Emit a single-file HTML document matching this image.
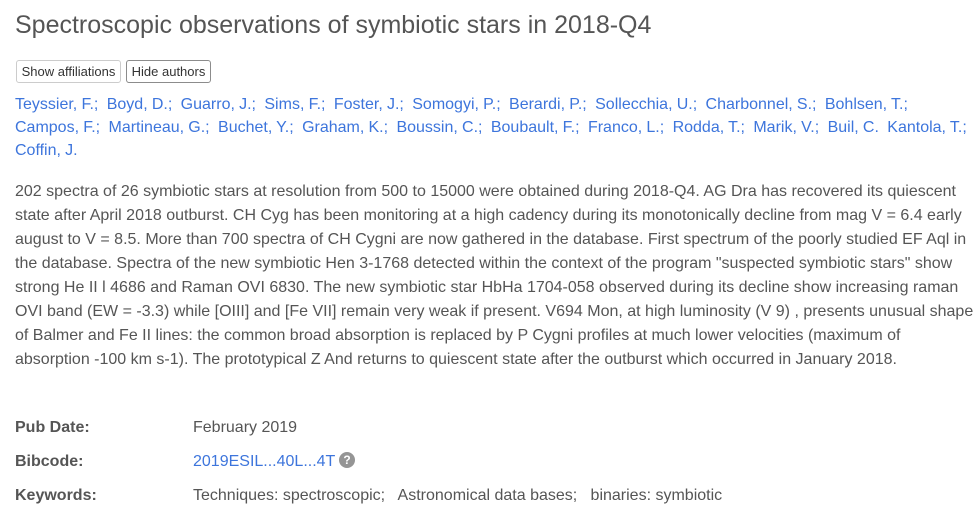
<!DOCTYPE html>
<html>
<head>
<meta charset="utf-8">
<style>
  html, body { margin:0; padding:0; background:#fff; }
  body { width:979px; height:520px; position:relative; overflow:hidden;
         font-family:"Liberation Sans", Arial, sans-serif; color:#555; }
  .abs { position:absolute; white-space:pre; }
  .title { left:15px; top:12px; font-size:25px; line-height:27px; color:#555; }
  .btn { position:absolute; top:60px; height:21px; line-height:21px; font-size:13px;
         color:#333; background:#fff; border:1px solid #ccc; border-radius:3px;
         text-align:center; box-sizing:content-box; white-space:pre; }
  .b1 { left:16px; width:103px; }
  .b2 { left:126px; width:83px; border-color:#8c8c8c; }
  .auth { left:15px; font-size:16px; line-height:23px; color:#3d75dc; word-spacing:-0.25px; }
  .abst { left:15px; font-size:16px; line-height:24px; color:#555; }
  .lab { left:15px; font-size:16px; line-height:20px; font-weight:bold; color:#555; }
  .val { left:193px; font-size:16px; line-height:20px; color:#555; }
  .link { color:#3d75dc; }
  .q { position:absolute; left:339px; top:452px; width:16px; height:16px; border-radius:50%;
       background:#959595; color:#fff; font-size:12px; font-weight:bold; line-height:16px;
       text-align:center; }
</style>
</head>
<body>
<div class="abs title">Spectroscopic observations of symbiotic stars in 2018-Q4</div>

<div class="btn b1">Show affiliations</div>
<div class="btn b2">Hide authors</div>

<div class="abs auth" style="top:93px;">Teyssier, F.;  Boyd, D.;  Guarro, J.;  Sims, F.;  Foster, J.;  Somogyi, P.;  Berardi, P.;  Sollecchia, U.;  Charbonnel, S.;  Bohlsen, T.;</div>
<div class="abs auth" style="top:116px;">Campos, F.;  Martineau, G.;  Buchet, Y.;  Graham, K.;  Boussin, C.;  Boubault, F.;  Franco, L.;  Rodda, T.;  Marik, V.;  Buil, C.  Kantola, T.;</div>
<div class="abs auth" style="top:139px;">Coffin, J.</div>

<div class="abs abst" style="top:180px;">202 spectra of 26 symbiotic stars at resolution from 500 to 15000 were obtained during 2018-Q4. AG Dra has recovered its quiescent</div>
<div class="abs abst" style="top:204px;">state after April 2018 outburst. CH Cyg has been monitoring at a high cadency during its monotonically decline from mag V = 6.4 early</div>
<div class="abs abst" style="top:228px;">august to V = 8.5. More than 700 spectra of CH Cygni are now gathered in the database. First spectrum of the poorly studied EF Aql in</div>
<div class="abs abst" style="top:252px;">the database. Spectra of the new symbiotic Hen 3-1768 detected within the context of the program "suspected symbiotic stars" show</div>
<div class="abs abst" style="top:276px;">strong He II l 4686 and Raman OVI 6830. The new symbiotic star HbHa 1704-058 observed during its decline show increasing raman</div>
<div class="abs abst" style="top:300px;">OVI band (EW = -3.3) while [OIII] and [Fe VII] remain very weak if present. V694 Mon, at high luminosity (V 9) , presents unusual shape</div>
<div class="abs abst" style="top:324px;">of Balmer and Fe II lines: the common broad absorption is replaced by P Cygni profiles at much lower velocities (maximum of</div>
<div class="abs abst" style="top:348px;">absorption -100 km s-1). The prototypical Z And returns to quiescent state after the outburst which occurred in January 2018.</div>

<div class="abs lab" style="top:418px;">Pub Date:</div>
<div class="abs val" style="top:418px;">February 2019</div>

<div class="abs lab" style="top:452px;">Bibcode:</div>
<div class="abs val" style="top:452px;"><span class="link">2019ESIL...40L...4T</span></div>
<div class="q">?</div>

<div class="abs lab" style="top:486px;">Keywords:</div>
<div class="abs val" style="top:486px;">Techniques: spectroscopic;   Astronomical data bases;   binaries: symbiotic</div>
</body>
</html>
